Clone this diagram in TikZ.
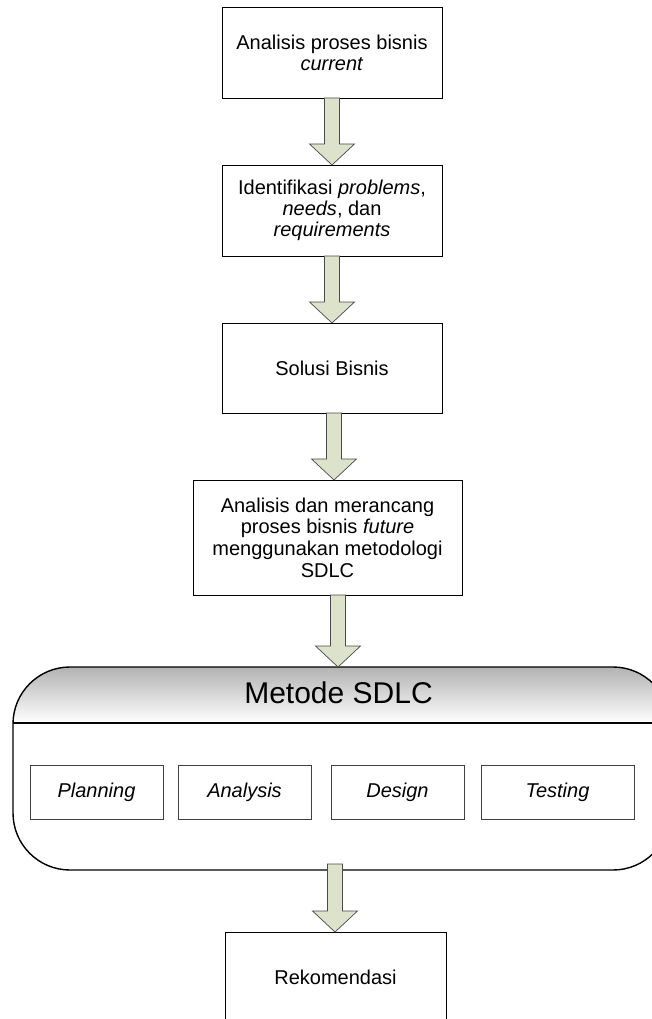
\documentclass[tikz,border=0pt]{standalone}
\usepackage{fontspec}
\setmainfont{Liberation Sans}
\usetikzlibrary{calc}
\definecolor{arrowfill}{HTML}{DDE2CB}
\definecolor{arrowline}{HTML}{4A4A4A}
\tikzset{
  procbox/.style={draw=black, line width=0.9pt, fill=white, inner sep=0pt, outer sep=0pt,
    align=center, font=\fontsize{20}{21}\selectfont},
  phasebox/.style={draw=black!75, line width=0.8pt, fill=white, inner sep=0pt, outer sep=0pt,
    minimum height=54pt, align=center, font=\fontsize{20}{21}\selectfont\itshape},
  blockarrow/.style={draw=arrowline, line width=0.7pt, fill=arrowfill, line join=miter},
}
% wide block arrow from the bottom of #1 to the top of #2, shifted by #3,
% its shaft starting #4 above the bottom of #1
\newcommand\flowarrow[4]{%
  \path let \p1=(#1.south), \p2=(#2.north) in
    [blockarrow] (\x1+#3-7.5pt,\y1+#4) -- (\x1+#3-7.5pt,\y2+21pt)
    -- (\x1+#3-22.5pt,\y2+21pt) -- (\x1+#3,\y2) -- (\x1+#3+22.5pt,\y2+21pt)
    -- (\x1+#3+7.5pt,\y2+21pt) -- (\x1+#3+7.5pt,\y1+#4) -- cycle;
}
\begin{document}
\begin{tikzpicture}[x=1pt, y=-1pt]
\useasboundingbox (0,0) rectangle (651,1019);

% main process steps
\node[procbox, minimum width=220pt, minimum height=91pt] (analisis) at (332,52.5)
  {Analisis proses bisnis\\\textit{current}};
\node[procbox, minimum width=220pt, minimum height=91pt] (identifikasi) at (332,210.5)
  {Identifikasi \textit{problems},\\\textit{needs}, dan\\\textit{requirements}};
\node[procbox, minimum width=220pt, minimum height=90pt] (solusi) at (332,368)
  {Solusi Bisnis};
\node[procbox, minimum width=269pt, minimum height=115pt,
      font=\fontsize{20}{21.6}\selectfont] (future) at (327.5,537.5)
  {Analisis dan merancang\\proses bisnis \textit{future}\\menggunakan metodologi\\SDLC};

% SDLC container: shaded header band, then outline and divider
\begin{scope}
  \clip[rounded corners=57pt] (13,667) rectangle (670,870);
  \shade[top color=black!30, bottom color=white] (13,667) rectangle (670,723);
\end{scope}
\node[draw=black, line width=1.4pt, rounded corners=57pt, inner sep=0pt, outer sep=0pt,
      minimum width=657pt, minimum height=203pt] (sdlc) at (341.5,768.5) {};
\draw[line width=1.4pt] (sdlc.west |- 0,723) -- (sdlc.east |- 0,723);
\node[font=\fontsize{30}{32}\selectfont, inner sep=0pt] (judul) at (338.5,693) {Metode SDLC};

% phases
\node[phasebox, minimum width=133pt] (planning) at (96.5,792) {Planning};
\node[phasebox, minimum width=133pt] (analysis) at (244.5,792) {Analysis};
\node[phasebox, minimum width=133pt] (design) at (397.5,792) {Design};
\node[phasebox, minimum width=153pt] (testing) at (557.5,792) {Testing};

% result box, running on past the bottom edge
\node[inner sep=0pt, outer sep=0pt, minimum width=221pt, minimum height=90pt,
      font=\fontsize{20}{21}\selectfont] (rekomendasi) at (335.5,977) {Rekomendasi};
\draw[black, line width=0.9pt] (rekomendasi.north west) ++(0,110) -- (rekomendasi.north west)
  -- (rekomendasi.north east) -- ++(0,110);

% block arrows between the steps
\flowarrow{analisis}{identifikasi}{0pt}{0pt}
\flowarrow{identifikasi}{solusi}{0pt}{0pt}
\flowarrow{solusi}{future}{2pt}{0pt}
\flowarrow{future}{sdlc}{10.5pt}{0pt}
\flowarrow{sdlc}{rekomendasi}{-6.5pt}{6pt}
\end{tikzpicture}
\end{document}
